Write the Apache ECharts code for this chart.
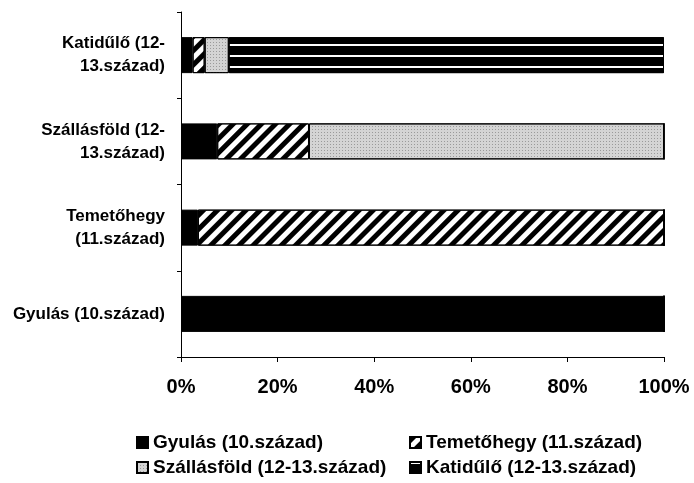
<!DOCTYPE html>
<html>
<head>
<meta charset="utf-8">
<script src="https://cdn.jsdelivr.net/npm/echarts@6/dist/echarts.min.js"></script>
<style>
  html, body { margin: 0; padding: 0; background: #fff; }
  #chart { width: 694px; height: 483px; }
</style>
</head>
<body>
<div id="chart"></div>
<script>
// Sites, bottom to top
const categories = ['Gyulás (10.század)', 'Temetőhegy\n(11.század)', 'Szállásföld (12-\n13.század)', 'Katidűlő (12-\n13.század)'];
const seriesNames = ['Gyulás (10.század)', 'Temetőhegy (11.század)', 'Szállásföld (12-13.század)', 'Katidűlő (12-13.század)'];

// Share (%) of each period's pottery type per site
const gyulasValues = [100, 3.5, 7.5, 2.4];
const temetohegyValues = [0, 96.5, 19, 2.5];
const szallasfoldValues = [0, 0, 73.5, 5];
const katiduloValues = [0, 0, 0, 90.1];

const xTicks = [0, 20, 40, 60, 80, 100];

const font = 'Liberation Sans, Arial, sans-serif';

const styles = [
    { color: '#000', decal: null },
    { color: '#fff', decal: { symbol: 'rect', symbolSize: 1, dashArrayX: [1, 0], dashArrayY: [5, 5], rotation: -Math.PI / 4, color: '#000' } },
    { color: '#d4d4d4', decal: { symbol: 'rect', symbolSize: 1, dashArrayX: [1, 2], dashArrayY: [1, 2], rotation: 0, color: '#9a9a9a' } },
    { color: '#000', decal: { symbol: 'rect', symbolSize: 1, dashArrayX: [1, 0], dashArrayY: [1.5, 8.5], rotation: 0, color: '#fff' } }
];

const allValues = [gyulasValues, temetohegyValues, szallasfoldValues, katiduloValues];

const legendText = { fontFamily: font, fontWeight: 'bold', fontSize: 19, color: '#000' };

const chart = echarts.init(document.getElementById('chart'));

chart.setOption({
    backgroundColor: '#fff',
    animation: false,
    textStyle: { fontFamily: font },
    grid: { left: 181, right: 30, top: 12, bottom: 126, containLabel: false },
    legend: [
        {
            data: [seriesNames[0], seriesNames[2]],
            orient: 'vertical',
            left: 136, top: 433, padding: 0,
            itemWidth: 11, itemHeight: 11, itemGap: 6,
            icon: 'rect',
            textStyle: legendText
        },
        {
            data: [seriesNames[1], seriesNames[3]],
            orient: 'vertical',
            left: 409, top: 433, padding: 0,
            itemWidth: 11, itemHeight: 11, itemGap: 6,
            icon: 'rect',
            textStyle: legendText
        }
    ],
    xAxis: {
        type: 'value',
        min: 0, max: 100, interval: 20,
        axisLine: { show: true, lineStyle: { color: '#000', width: 1 } },
        axisTick: { show: true, length: 5, lineStyle: { color: '#000' } },
        splitLine: { show: false },
        axisLabel: {
            formatter: v => xTicks.includes(v) ? v + '%' : '',
            color: '#000', fontWeight: 'bold', fontSize: 20, margin: 20
        }
    },
    yAxis: {
        type: 'category',
        data: categories,
        axisLine: { show: true, lineStyle: { color: '#000', width: 1 } },
        axisTick: { show: true, length: 4, alignWithLabel: false, lineStyle: { color: '#000' } },
        axisLabel: { color: '#000', fontWeight: 'bold', fontSize: 17, lineHeight: 23, margin: 16, align: 'right' }
    },
    series: seriesNames.map((name, i) => ({
        name: name,
        type: 'bar',
        stack: 'total',
        barWidth: 36,
        data: allValues[i],
        itemStyle: {
            color: styles[i].color,
            borderColor: '#000',
            borderWidth: 1,
            decal: styles[i].decal || undefined
        }
    }))
});
</script>
</body>
</html>
